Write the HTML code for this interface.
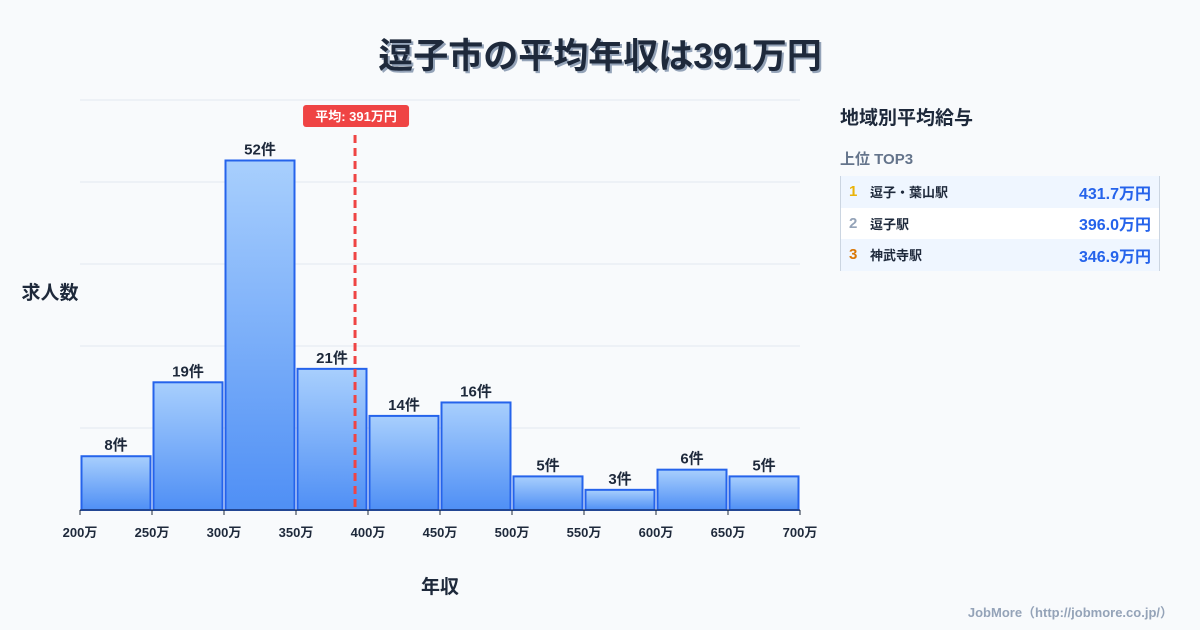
<!DOCTYPE html>
<html><head><meta charset="utf-8">
<style>
body{margin:0;background:#f8fafc;font-family:"Liberation Sans","Noto Sans CJK JP",sans-serif;}
#wrap{position:relative;width:1200px;height:630px;overflow:hidden;background:#f8fafc;}
.title{position:absolute;left:0;width:1200px;top:28px;text-align:center;font-size:35px;font-weight:bold;color:#1e293b;text-shadow:2px 2px 0 #94a3b8;}
.side{position:absolute;left:840px;top:103px;width:320px;}
.side h3{margin:0;font-size:19px;font-weight:bold;color:#1e293b;}
.side .sub{margin-top:18px;font-size:15px;font-weight:bold;color:#64748b;}
.tbl{margin-top:7px;border-left:1px solid #cbd5e1;border-right:1px solid #cbd5e1;}
.row{height:31.5px;display:flex;align-items:center;font-size:13px;font-weight:bold;color:#1e293b;}
.row.alt{background:#eff6ff;}
.rk{width:21px;padding-left:8px;font-size:15px;}
.nm{flex:1;}
.val{padding-right:8px;color:#2563eb;font-size:16px;}
.foot{position:absolute;right:27px;top:602px;font-size:13px;font-weight:bold;color:#94a3b8;}
</style></head><body>
<div id="wrap">
<div class="title">逗子市の平均年収は391万円</div>
<svg id="chart" width="1200" height="630" style="position:absolute;left:0;top:0">
<defs><linearGradient id="g" x1="0" y1="0" x2="0" y2="1"><stop offset="0" stop-color="#a8cffd"/><stop offset="1" stop-color="#4f8ff5"/></linearGradient></defs>
</svg>
<div class="side">
<h3>地域別平均給与</h3>
<div class="sub">上位 TOP3</div>
<div class="tbl">
<div class="row alt"><span class="rk" style="color:#eab308">1</span><span class="nm">逗子・葉山駅</span><span class="val">431.7万円</span></div>
<div class="row" style="background:#fff"><span class="rk" style="color:#94a3b8">2</span><span class="nm">逗子駅</span><span class="val">396.0万円</span></div>
<div class="row alt"><span class="rk" style="color:#d97706">3</span><span class="nm">神武寺駅</span><span class="val">346.9万円</span></div>
</div></div>
<div class="foot">JobMore（http://jobmore.co.jp/）</div>
</div>
<script>
const binStarts=[200,250,300,350,400,450,500,550,600,650];
const counts=[8,19,52,21,14,16,5,3,6,5];
const tickLabels=["200万","250万","300万","350万","400万","450万","500万","550万","600万","650万","700万"];
const tickValues=[200,250,300,350,400,450,500,550,600,650,700];
const average=391;
const avgLabel="平均: 391万円";
const NS="http://www.w3.org/2000/svg";
const svg=document.getElementById('chart');
const X0=80,X1=800,Y0=510,Y1=100,XMIN=200,XMAX=700,YMAX=61;
const xs=v=>X0+(v-XMIN)/(XMAX-XMIN)*(X1-X0);
const ys=v=>Y0-v/YMAX*(Y0-Y1);
function mk(t,a,txt){const e=document.createElementNS(NS,t);for(const k in a)e.setAttribute(k,a[k]);if(txt!=null)e.textContent=txt;svg.appendChild(e);return e;}
for(let i=0;i<=5;i++){const y=Y1+i*(Y0-Y1)/5;
const l=mk('line',{x1:X0,x2:X1,y1:y,y2:y,stroke:'#e2e8f0','stroke-width':1});

}
const bw=50;
binStarts.forEach((b,i)=>{const xa=xs(b)+1.5,xb=xs(b+bw)-1.5,yt=ys(counts[i]);
const r=mk('rect',{x:xa,y:yt,width:xb-xa,height:Y0-yt,fill:'url(#g)',stroke:'#2563eb','stroke-width':2});


const t=mk('text',{x:(xa+xb)/2,y:yt-6,'text-anchor':'middle','font-size':15,'font-weight':'bold',fill:'#1e293b'},counts[i]+'件');

});
const ax=mk('line',{x1:X0,x2:X1,y1:Y0,y2:Y0,stroke:'#1e293b','stroke-width':1});


tickValues.forEach((v,i)=>{
const tk=mk('line',{x1:xs(v),x2:xs(v),y1:Y0,y2:Y0+5,stroke:'#1e293b'});


const tl=mk('text',{x:xs(v),y:Y0+27,'text-anchor':'middle','font-size':13,'font-weight':'bold',fill:'#1e293b'},tickLabels[i]);

});
const ax2=xs(average);
const al=mk('line',{x1:ax2,x2:ax2,y1:135,y2:Y0,stroke:'#ef4444','stroke-width':3,'stroke-dasharray':'8,5'});


const ab=mk('rect',{x:ax2-52,y:105,width:106,height:22,rx:3,fill:'#ef4444'});


const at=mk('text',{x:ax2+1,y:121,'text-anchor':'middle','font-size':13,'font-weight':'bold',fill:'#fff'},avgLabel);


const yt=mk('text',{x:50,y:299,'text-anchor':'middle','font-size':19,'font-weight':'bold',fill:'#1e293b'},'求人数');


const xt=mk('text',{x:440,y:593,'text-anchor':'middle','font-size':19,'font-weight':'bold',fill:'#1e293b'},'年収');


</script>
</body></html>
